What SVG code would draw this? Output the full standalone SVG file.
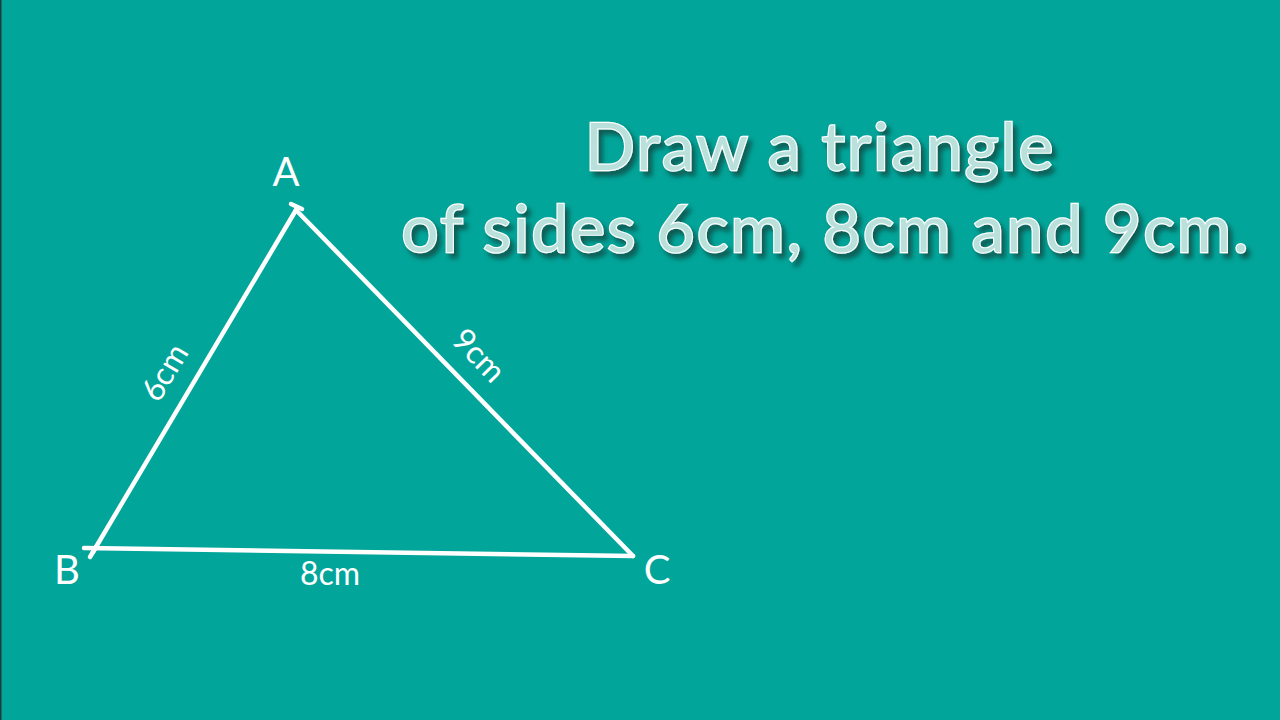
<svg xmlns="http://www.w3.org/2000/svg" width="1280" height="720" viewBox="0 0 1280 720">
<defs>
<filter id="shadow" x="-10%" y="-30%" width="120%" height="160%">
<feDropShadow dx="4" dy="5" stdDeviation="2.5" flood-color="#0b3f3a" flood-opacity="0.75"/>
</filter>
<style>
.title{font-family:Lato,"Open Sans",sans-serif;font-size:66px;letter-spacing:2px;fill:#b9e0da;stroke:#ffffff;stroke-width:2.4px;paint-order:stroke;text-anchor:middle;}
.lbl{font-family:Lato,"Open Sans",sans-serif;fill:#ffffff;text-anchor:middle;}
.vtx{font-size:40px;}
.side{font-size:32px;}
.edge{stroke:#ffffff;stroke-width:4.5;stroke-linecap:round;fill:none;}
</style>
</defs>
<rect x="0" y="0" width="1280" height="720" fill="#02a59a"/>
<rect x="0" y="0" width="1.5" height="720" fill="#1f3a38"/>
<g id="title" filter="url(#shadow)">
<text class="title" x="820" y="170">Draw a triangle</text>
<text class="title" x="826" y="252">of sides 6cm, 8cm and 9cm.</text>
</g>
<g id="connectors">
<line class="edge" x1="296" y1="210" x2="93" y2="552"/>
<line class="edge" x1="296" y1="210" x2="633" y2="556"/>
<line class="edge" x1="84" y1="548" x2="633" y2="556"/>
<line class="edge" x1="291" y1="204" x2="302" y2="209"/>
<line class="edge" x1="96" y1="547" x2="90" y2="557"/>
</g>
<g id="A"><text class="lbl vtx" x="286" y="186">A</text></g>
<g id="B"><text class="lbl vtx" x="67" y="584">B</text></g>
<g id="C"><text class="lbl vtx" x="657" y="584">C</text></g>
<g id="label-AB"><text class="lbl side" transform="translate(174,378) rotate(-59.3)">6cm</text></g>
<g id="label-AC"><text class="lbl side" transform="translate(471,363) rotate(45.9)">9cm</text></g>
<g id="label-BC"><text class="lbl side" x="330" y="585">8cm</text></g>
</svg>
